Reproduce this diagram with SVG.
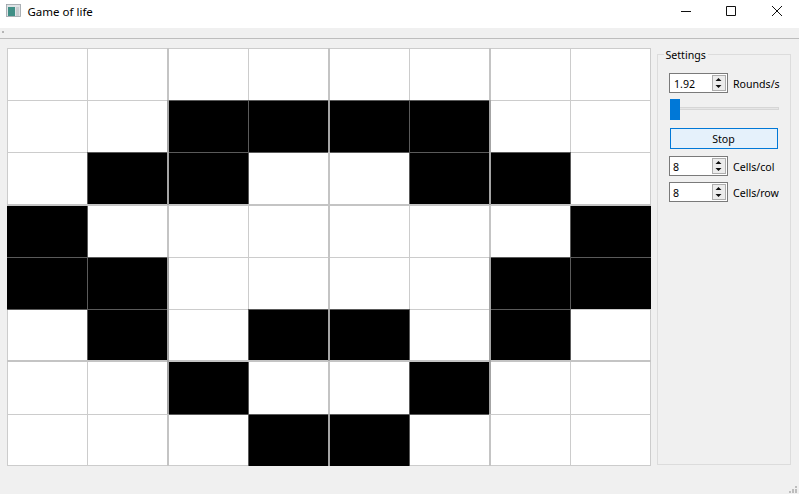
<svg xmlns="http://www.w3.org/2000/svg" width="799" height="494" viewBox="0 0 799 494">
<style>
text{font-family:"Noto Sans","Open Sans","Liberation Sans",sans-serif;font-size:10.6px;fill:#000}
.c{fill:#000}
.g{stroke:#ccc;stroke-width:1;fill:none;shape-rendering:crispEdges}
.t{stroke:#c4c4c4;stroke-width:2;fill:none;shape-rendering:crispEdges}
.d{stroke:#5a5a5a;stroke-width:1;fill:none;shape-rendering:crispEdges}
.e{stroke:#a4a4a4;stroke-width:2;fill:none;shape-rendering:crispEdges}
.sb{fill:#fff;stroke:#7a7a7a;stroke-width:1;shape-rendering:crispEdges}
.btn{fill:#ececec;stroke:#adadad;stroke-width:1;shape-rendering:crispEdges}
.ar{fill:#111}
</style>
<rect width="799" height="494" fill="#f0f0f0"/>
<g id="titlebar">
<rect width="799" height="28" fill="#fff"/>
<rect x="6.500" y="4.500" width="14" height="12" fill="#dfe3e6" stroke="#9aa0a6" stroke-width="0.8"/>
<rect x="8" y="7" width="7" height="9" fill="#3f8f86"/>
<rect x="16" y="7" width="3" height="9" fill="#c8ccd0"/>
<text x="27.500" y="16" style="font-size:11.5px">Game of life</text>
<path d="M681 11.500H691M726.500 6.500H735.500V15.500H726.500ZM772 6L782 16M782 6L772 16" fill="none" stroke="#111" stroke-width="1"/>
</g>
<rect y="38" width="799" height="1" fill="#bdbdbd"/>
<rect x="2" y="31" width="2" height="2" fill="#b5b5b5"/>
<g id="grid">
<rect x="7" y="48" width="644" height="418" fill="#fff"/>
<path class="g" d="M7.500 48V466M87.500 48V466M248.500 48V466M409.500 48V466M570.500 48V466M650.500 48V466M7 48.500H651M7 100.500H651M7 152.500H651M7 257.500H651M7 309.500H651M7 414.500H651M7 465.500H651"/>
<path class="c" d="M168 100h322v52H168zM88 152h161v53H88zM409 152h162v53H409zM7 205h81v52H7zM571 205h80v52h-80zM7 257h161v52H7zM490 257h161v52H490zM88 309h80v52H88zM248 309h161v52H248zM490 309h81v52h-81zM168 361h81v53h-81zM409 361h81v53h-81zM248 414h161v52H248z"/>
<path class="d" d="M248.500 100V205M409.500 100V205M570.500 152V205M87.500 152V361M570.500 205V361M248.500 309V466M409.500 309V466M168 100.500H490M168 152.500H490M88 152.500H168M490 152.500H571M7 257.500H168M490 257.500H651M7 309.500H168M490 309.500H571M248 309.500H409M248 414.500H409M168 414.500H248M409 414.500H490"/>
<path class="t" d="M168 48V466M329 48V466M490 48V466M7 205H651M7 361H651"/>
<path class="e" d="M168 100V205M168 257V414M329 100V152M329 309V361M329 414V466M490 100V205M490 257V414"/>
</g>
<g id="settings">
<rect x="657.500" y="54.500" width="133" height="410" fill="none" stroke="#dcdcdc"/>
<rect x="664" y="50" width="44" height="10" fill="#f0f0f0"/>
<text x="665.500" y="59">Settings</text>
</g>
<g id="rounds">
<rect class="sb" x="669.500" y="73.500" width="58" height="19"/>
<rect class="btn" x="712.500" y="75.500" width="13" height="15"/>
<path class="ar" d="M718.500 78l-3 3h6zM718.500 88l-3-3h6z"/>
<text x="674" y="88">1.92</text>
<text x="733" y="88">Rounds/s</text>
</g>
<g id="slider">
<rect x="670.500" y="107.500" width="108" height="2" fill="#e6e6e6" stroke="#d6d6d6"/>
<rect x="670" y="99" width="10" height="21" fill="#0078d7"/>
</g>
<g id="stop">
<rect x="670.500" y="128.500" width="107" height="20" fill="#e5f1fb" stroke="#0078d7"/>
<text x="723.500" y="143" text-anchor="middle">Stop</text>
</g>
<g id="cellscol">
<rect class="sb" x="669.500" y="156.500" width="58" height="19"/>
<rect class="btn" x="712.500" y="158.500" width="13" height="15"/>
<path class="ar" d="M718.500 161l-3 3h6zM718.500 171l-3-3h6z"/>
<text x="673" y="171">8</text>
<text x="733" y="171">Cells/col</text>
</g>
<g id="cellsrow">
<rect class="sb" x="669.500" y="182.500" width="58" height="19"/>
<rect class="btn" x="712.500" y="184.500" width="13" height="15"/>
<path class="ar" d="M718.500 187l-3 3h6zM718.500 197l-3-3h6z"/>
<text x="673" y="197">8</text>
<text x="733" y="197">Cells/row</text>
</g>
<path fill="#bdbdbd" d="M795 486h2v2h-2zM792 489h2v2h-2zM795 489h2v2h-2zM789 491h2v2h-2zM792 491h2v2h-2zM795 491h2v2h-2z"/>
</svg>
